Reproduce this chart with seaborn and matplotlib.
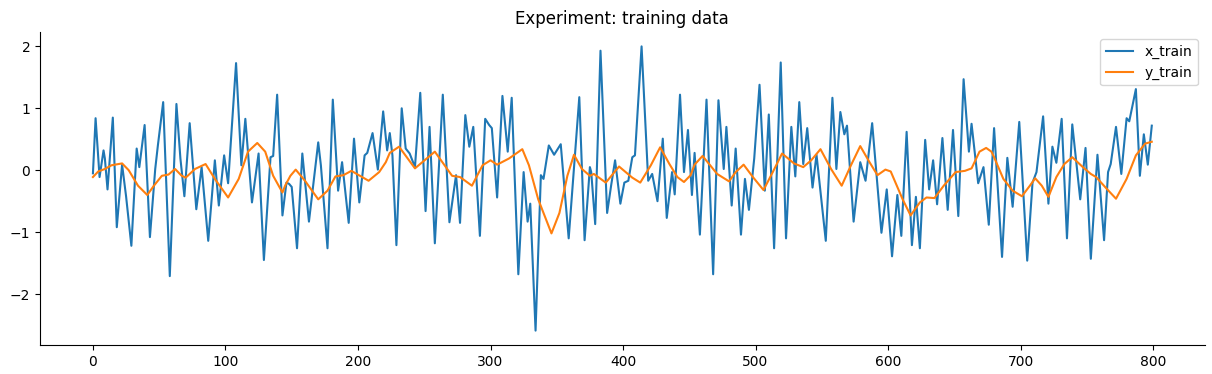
import matplotlib
matplotlib.use("Agg")
import matplotlib.pyplot as plt
import seaborn as sns

# x_train at its turning points
x_idx = [0, 2, 5, 8, 9, 11, 15, 18, 22, 25, 29, 33, 35, 39, 43, 47, 49, 53, 58, 63, 66, 69, 73,
         78, 82, 87, 92, 95, 99, 102, 108, 112, 115, 120, 125, 129, 134, 136, 139, 143, 146,
         148, 150, 154, 158, 163, 170, 172, 177, 181, 185, 188, 193, 197, 201, 205, 207, 211, 215, 219, 222,
         224, 226, 229, 233, 236, 239, 243, 247, 251, 254, 258, 264, 269, 274, 277, 281, 284, 287, 292, 296, 299,
         301, 305, 309, 313, 316, 321, 325, 328, 330, 334, 338, 340, 344, 348, 353, 359, 367, 371,
         375, 376, 379, 383, 388, 391, 394, 398, 401, 404, 407, 409, 414, 419, 422, 426, 430, 433, 437, 439, 443, 446, 449,
         452, 454, 458, 463, 468, 472, 476, 478, 482, 485, 489, 492, 495, 499, 503, 507, 510, 514, 519, 523,
         527, 530, 533, 536, 539, 543, 546, 553, 558, 561, 564, 567, 569, 574, 579, 583, 588, 595, 599,
         603, 607, 610, 614, 618, 621, 624, 628, 631, 634, 637, 641, 645, 649, 653, 657, 661, 663, 668, 672, 676,
         680, 686, 690, 694, 699, 705, 709, 712, 717, 721, 724, 727, 731, 735, 739, 745, 749, 753,
         758, 763, 766, 768, 772, 776, 780, 782, 787, 790, 793, 796, 799]
x_train = [-0.05, 0.84, -0.11, 0.32, 0.19, -0.31, 0.85, -0.92, 0.09, -0.42, -1.22, 0.35, 0.05, 0.73, -1.08, 0.02, 0.40, 1.10, -1.71, 1.07, 0.19, -0.42, 0.76,
           -0.63, 0.05, -1.14, 0.16, -0.57, 0.24, -0.21, 1.73, 0.08, 0.83, -0.52, 0.27, -1.45, 0.21, 0.23, 1.22, -0.73, -0.20,
           -0.22, -0.27, -1.26, 0.27, -0.83, 0.45, 0.08, -1.26, 1.14, -0.33, 0.13, -0.85, 0.51, -0.52, 0.24, 0.28, 0.60, 0.01, 0.95, 0.32,
           0.60, 0.24, -1.21, 1.00, 0.35, 0.27, 0.05, 1.25, -0.66, 0.70, -1.18, 1.22, -0.84, -0.08, -0.85, 0.89, 0.38, 0.70, -1.06, 0.83, 0.73,
           0.68, -0.44, 1.20, 0.30, 1.17, -1.68, -0.03, -0.83, -0.54, -2.59, -0.08, -0.14, 0.40, 0.25, 0.42, -1.10, 1.18, -1.13,
           0.05, -0.03, -0.87, 1.93, -0.69, -0.25, 0.16, -0.54, -0.20, -0.17, 0.21, 0.24, 2.00, -0.17, -0.06, -0.50, 0.51, -0.77, -0.03, -0.39, 1.22, -0.03, 0.65,
           -0.40, 0.28, -1.04, 1.14, -1.68, 1.13, 0.02, 0.70, -0.57, 0.35, -1.04, -0.14, -0.64, 0.19, 1.38, -0.33, 0.90, -1.26, 1.74, -1.10,
           0.70, -0.10, 1.10, 0.10, 0.68, -0.28, 0.25, -1.14, 1.17, 0.02, 0.94, 0.58, 0.72, -0.83, 0.13, -0.17, 0.76, -1.01, -0.31,
           -1.39, -0.40, -1.06, 0.62, -1.21, -0.43, -1.26, 0.49, -0.31, 0.16, -0.55, 0.52, -0.64, 0.65, -0.74, 1.47, 0.30, 0.75, -0.21, 0.05, -0.88,
           0.68, -1.40, 0.20, -0.59, 0.78, -1.46, -0.20, -0.03, 0.87, -0.54, 0.38, 0.12, 0.83, -1.10, 0.74, -0.47, 0.36, -1.43,
           0.25, -1.13, -0.03, 0.10, 0.70, -0.06, 0.84, 0.79, 1.31, -0.09, 0.58, 0.09, 0.72]

# y_train
y_idx = [0, 4, 9, 14, 22, 27, 34, 41, 46, 52, 57, 62, 67, 70,
         77, 85, 92, 102, 110, 117, 124, 130, 136, 143, 145, 149,
         153, 160, 170, 177, 183, 189, 195, 208, 216, 221, 224,
         231, 243, 258, 271, 277, 286, 294, 300,
         305, 314, 324, 329, 336, 346, 352, 358, 363, 369, 375,
         378, 387, 397, 407, 413, 421, 428, 435, 441, 446,
         451, 454, 460, 465, 471, 480, 485, 491, 498, 506, 513, 520, 524,
         529, 536, 542, 549, 557, 565, 572, 579, 586, 592, 598, 602,
         611, 617, 624, 629, 635, 642, 651, 658, 663, 669, 674, 678,
         680, 687, 694, 701, 707, 711, 716, 721, 727, 733, 739, 747, 753,
         757, 765, 772, 780, 787, 794, 799]
y_train = [-0.11, -0.02, 0.02, 0.08, 0.11, 0.00, -0.25, -0.40, -0.25, -0.09, -0.07, 0.02, -0.09, -0.12,
           0.02, 0.10, -0.14, -0.44, -0.14, 0.30, 0.44, 0.30, -0.09, -0.36, -0.25, -0.09,
           0.01, -0.17, -0.47, -0.33, -0.10, -0.08, -0.01, -0.17, -0.03, 0.13, 0.28,
           0.38, 0.03, 0.30, -0.09, -0.11, -0.25, 0.08, 0.16,
           0.09, 0.19, 0.34, 0.08, -0.47, -1.02, -0.69, -0.09, 0.25, 0.02, -0.09,
           -0.06, -0.20, 0.06, -0.12, -0.20, 0.08, 0.37, 0.10, -0.11, -0.19,
           -0.08, 0.09, 0.23, 0.10, -0.06, -0.18, -0.03, 0.09, -0.11, -0.32, -0.03, 0.27, 0.20,
           0.11, 0.05, 0.16, 0.34, 0.02, -0.25, 0.08, 0.39, 0.13, -0.08, 0.01, -0.02,
           -0.47, -0.73, -0.52, -0.44, -0.45, -0.25, -0.03, -0.01, 0.03, 0.30, 0.36, 0.30,
           0.21, -0.14, -0.33, -0.42, -0.25, -0.13, -0.25, -0.43, -0.11, 0.10, 0.21, 0.05, -0.06,
           -0.11, -0.30, -0.46, -0.14, 0.24, 0.43, 0.46]

fig, ax = plt.subplots(figsize=(12.12, 3.74), dpi=100)
sns.lineplot(x=x_idx, y=x_train, label='x_train', ax=ax)
sns.lineplot(x=y_idx, y=y_train, label='y_train', ax=ax)
ax.set_title('Experiment: training data')
ax.legend(loc='upper right')
sns.despine(ax=ax)
fig.subplots_adjust(left=0.033, right=0.994, top=0.914, bottom=0.078)
fig.savefig('out.png')
